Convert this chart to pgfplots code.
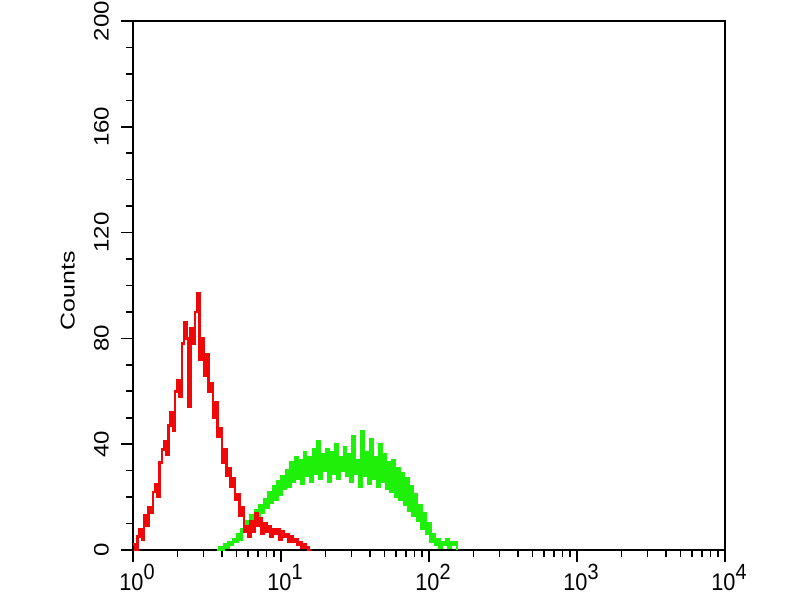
\documentclass[border=0pt]{standalone}
\usepackage{fontspec}
\setmainfont{Liberation Sans}
\usepackage{pgfplots}
\pgfplotsset{compat=1.18}
\newcommand\ex[1]{\raisebox{0.45em}{\fontsize{21}{23}\selectfont #1}}
\newcommand\xl[1]{\mbox{\scalebox{0.95}[1.05]{\fontsize{23}{25}\selectfont 10\ex{#1}}}}
\begin{document}
\fontsize{20}{24}\selectfont
\begin{tikzpicture}
\useasboundingbox (-133bp,-50bp) rectangle (667bp,550bp);
\begin{axis}[
  at={(0,0)}, anchor=south west,
  scale only axis, width=592bp, height=529bp,
  xmin=0, xmax=4, ymin=0, ymax=200,
  xtick={0,1,2,3,4},
  xticklabels={\xl{0},\xl{1},\xl{2},\xl{3},\xl{4}},
  minor xtick={0.301,0.477,0.602,0.699,0.778,0.845,0.903,0.954,
               1.301,1.477,1.602,1.699,1.778,1.845,1.903,1.954,
               2.301,2.477,2.602,2.699,2.778,2.845,2.903,2.954,
               3.301,3.477,3.602,3.699,3.778,3.845,3.903,3.954},
  ytick={0,40,80,120,160,200},
  minor ytick={10,20,30,50,60,70,90,100,110,130,140,150,170,180,190},
  tick pos=left, tick align=outside,
  major tick length=12bp, minor tick length=7bp,
  axis line style={line width=2.2bp},
  every tick/.style={black, line width=1.6bp},
  /pgf/number format/assume math mode=true,
  tick label style={font=\fontsize{21}{24}\selectfont},
  xticklabel style={font=\fontsize{23}{25}\selectfont, inner sep=0bp, yshift=-2bp, xshift=4bp},
  yticklabel={\scalebox{1.15}[1]{\pgfmathprintnumber{\tick}}},
  yticklabel style={rotate=90, anchor=south, inner sep=0bp, yshift=12bp},
  ylabel={\scalebox{1.25}[1]{Counts}},
  ylabel style={at={(axis description cs:-0.11,0.49)}, anchor=center, font=\fontsize{20}{24}\selectfont},
  clip=true,
]
\addplot[const plot, color={rgb,255:red,30;green,240;blue,10}, line width=2.6bp] coordinates {
(0.570,0) (0.585,1) (0.600,0) (0.615,2) (0.630,1) (0.645,3) (0.660,2) (0.675,4)
(0.690,3) (0.705,6) (0.720,4) (0.735,8) (0.750,7) (0.765,11) (0.780,9) (0.795,13)
(0.810,11) (0.825,15) (0.840,12) (0.855,17) (0.870,14) (0.885,19) (0.900,16) (0.915,22)
(0.930,18) (0.945,24) (0.960,19) (0.975,26) (0.990,21) (1.005,28) (1.020,23) (1.035,30)
(1.050,24) (1.065,33) (1.080,26) (1.095,35) (1.110,27) (1.125,34) (1.140,25) (1.155,37)
(1.170,28) (1.185,35) (1.200,26) (1.215,38) (1.230,29) (1.245,41) (1.260,27) (1.275,36)
(1.290,30) (1.305,38) (1.320,26) (1.335,37) (1.350,29) (1.365,40) (1.380,27) (1.395,35)
(1.410,30) (1.425,39) (1.440,28) (1.455,36) (1.470,26) (1.485,43) (1.500,29) (1.515,34)
(1.530,24) (1.545,45) (1.560,28) (1.575,37) (1.590,25) (1.605,42) (1.620,27) (1.635,35)
(1.650,24) (1.665,40) (1.680,26) (1.695,36) (1.710,23) (1.725,33) (1.740,22) (1.755,34)
(1.770,20) (1.785,31) (1.800,19) (1.815,29) (1.830,17) (1.845,27) (1.860,15) (1.875,24)
(1.890,13) (1.905,21) (1.920,11) (1.935,17) (1.950,8) (1.965,14) (1.980,6) (1.995,10)
(2.010,3) (2.025,6) (2.040,2) (2.055,4) (2.070,1) (2.085,3) (2.100,2) (2.115,4)
(2.130,1) (2.145,3) (2.160,2) (2.175,3) (2.190,0)
};
\addplot[const plot, color={rgb,255:red,240;green,8;blue,8}, line width=2.6bp] coordinates {
(0.000,2) (0.015,0) (0.030,5) (0.045,8) (0.060,4) (0.075,13) (0.090,9) (0.105,16)
(0.120,14) (0.135,22) (0.150,25) (0.165,20) (0.180,33) (0.195,38) (0.210,41) (0.225,36)
(0.240,47) (0.255,52) (0.270,45) (0.285,60) (0.300,64) (0.315,58) (0.330,78) (0.345,86)
(0.360,80) (0.375,54) (0.390,84) (0.405,78) (0.420,90) (0.435,97) (0.450,72) (0.465,80)
(0.480,66) (0.495,74) (0.510,60) (0.525,63) (0.540,50) (0.555,56) (0.570,43) (0.585,46)
(0.600,33) (0.615,38) (0.630,28) (0.645,31) (0.660,24) (0.675,27) (0.690,19) (0.705,21)
(0.720,13) (0.735,16) (0.750,7) (0.765,9) (0.780,5) (0.795,11) (0.810,7) (0.825,14)
(0.840,9) (0.855,12) (0.870,6) (0.885,10) (0.900,7) (0.915,9) (0.930,5) (0.945,8)
(0.960,6) (0.975,8) (0.990,4) (1.005,7) (1.020,5) (1.035,6) (1.050,3) (1.065,5)
(1.080,3) (1.095,4) (1.110,2) (1.125,3) (1.140,1) (1.155,2) (1.170,1) (1.185,0)
(1.200,0)
};
\end{axis}
\end{tikzpicture}
\end{document}
